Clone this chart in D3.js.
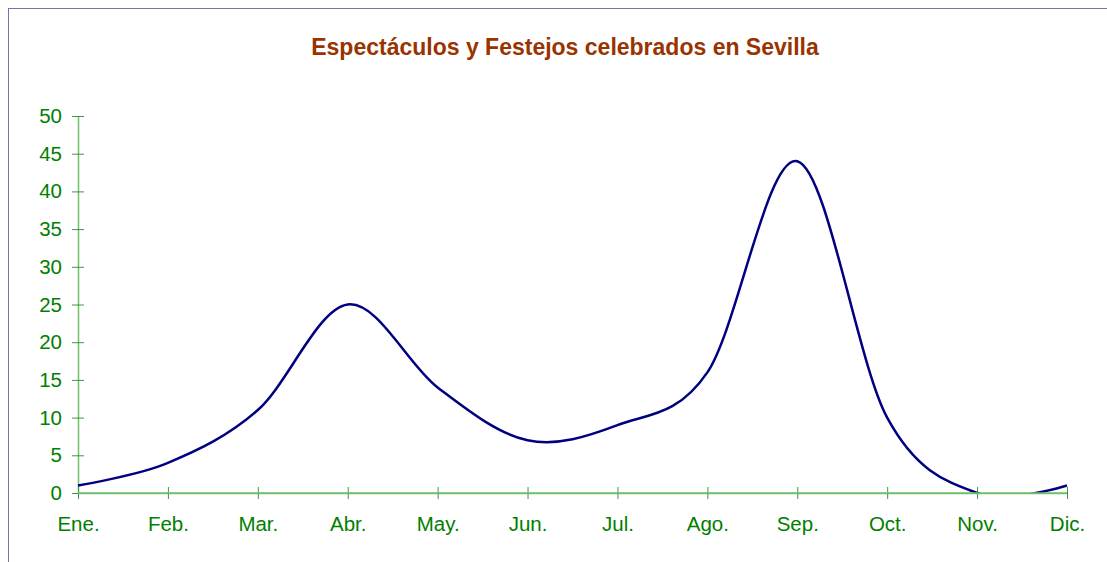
<!DOCTYPE html>
<html>
<head>
<meta charset="utf-8">
<script src="https://cdn.jsdelivr.net/npm/d3@7"></script>
<style>
  body { margin: 0; background: #fff; }
  text { font-family: "Liberation Sans", Arial, sans-serif; }
</style>
</head>
<body>
<script>
"use strict";

var months = ["Ene.", "Feb.", "Mar.", "Abr.", "May.", "Jun.", "Jul.", "Ago.", "Sep.", "Oct.", "Nov.", "Dic."];
var festejos = [1, 4, 11, 25, 14, 7, 9, 16, 44, 10, 0, 1];
var yTicks = [0, 5, 10, 15, 20, 25, 30, 35, 40, 45, 50];

var width = 1107;
var height = 562;
var plotLeft = 78;
var plotRight = 1067;
var plotTop = 116;
var plotBottom = 493;

var svg = d3.select("body").append("svg").attr("width", width).attr("height", height);

// outer frame
svg.append("rect").attr("x", 8.5).attr("y", 8.5).attr("width", width + 20).attr("height", height + 20)
  .attr("fill", "none").attr("stroke", "#7474b0").attr("stroke-width", 1);

svg.append("text").attr("x", 565).attr("y", 55).attr("text-anchor", "middle")
  .attr("font-size", 23).attr("font-weight", "bold").attr("fill", "#993300")
  .text("Espectáculos y Festejos celebrados en Sevilla");

var xScale = d3.scalePoint().domain(months).range([plotLeft, plotRight]);
var yScale = d3.scaleLinear().domain([0, 50]).range([plotBottom, plotTop]);

// clip the line to the plot area
svg.append("clipPath").attr("id", "plot").append("rect")
  .attr("x", plotLeft - 2).attr("y", plotTop - 2).attr("width", plotRight - plotLeft + 4).attr("height", plotBottom - plotTop + 2);

var yAxis = d3.axisLeft(yScale).tickValues(yTicks).tickSizeInner(6).tickSizeOuter(0).tickPadding(10);
var gy = svg.append("g").attr("transform", "translate(" + plotLeft + ",0)").call(yAxis).attr("id", "y-axis");

var xAxis = d3.axisBottom(xScale).tickSizeInner(6).tickSizeOuter(0).tickPadding(17);
var gx = svg.append("g").attr("transform", "translate(0," + plotBottom + ")").call(xAxis).attr("id", "x-axis");

[gx, gy].forEach(function (g) {
  g.select(".domain").attr("stroke", "#70c070").attr("stroke-width", 1.5);
  g.selectAll(".tick line").attr("stroke", "#3a9a3a");
  g.selectAll(".tick text").attr("fill", "#008000").attr("font-size", 20.5)
    .attr("font-family", "'Liberation Sans', Arial, sans-serif");
});
// ticks cross the axis
gy.selectAll(".tick line").attr("x1", 6).attr("x2", -6);
gx.selectAll(".tick line").attr("y1", -6).attr("y2", 6);

var line = d3.line()
  .x(function (d, i) { return xScale(months[i]); })
  .y(function (d) { return yScale(d); })
  .curve(d3.curveCatmullRom.alpha(0));

svg.append("path").datum(festejos).attr("d", line).attr("clip-path", "url(#plot)")
  .attr("fill", "none").attr("stroke", "#000080").attr("stroke-width", 2.5);

// redraw the x domain on top of the line
svg.append("line").attr("x1", plotLeft).attr("x2", plotRight).attr("y1", plotBottom).attr("y2", plotBottom)
  .attr("stroke", "#70c070").attr("stroke-width", 1.5);
</script>
</body>
</html>
